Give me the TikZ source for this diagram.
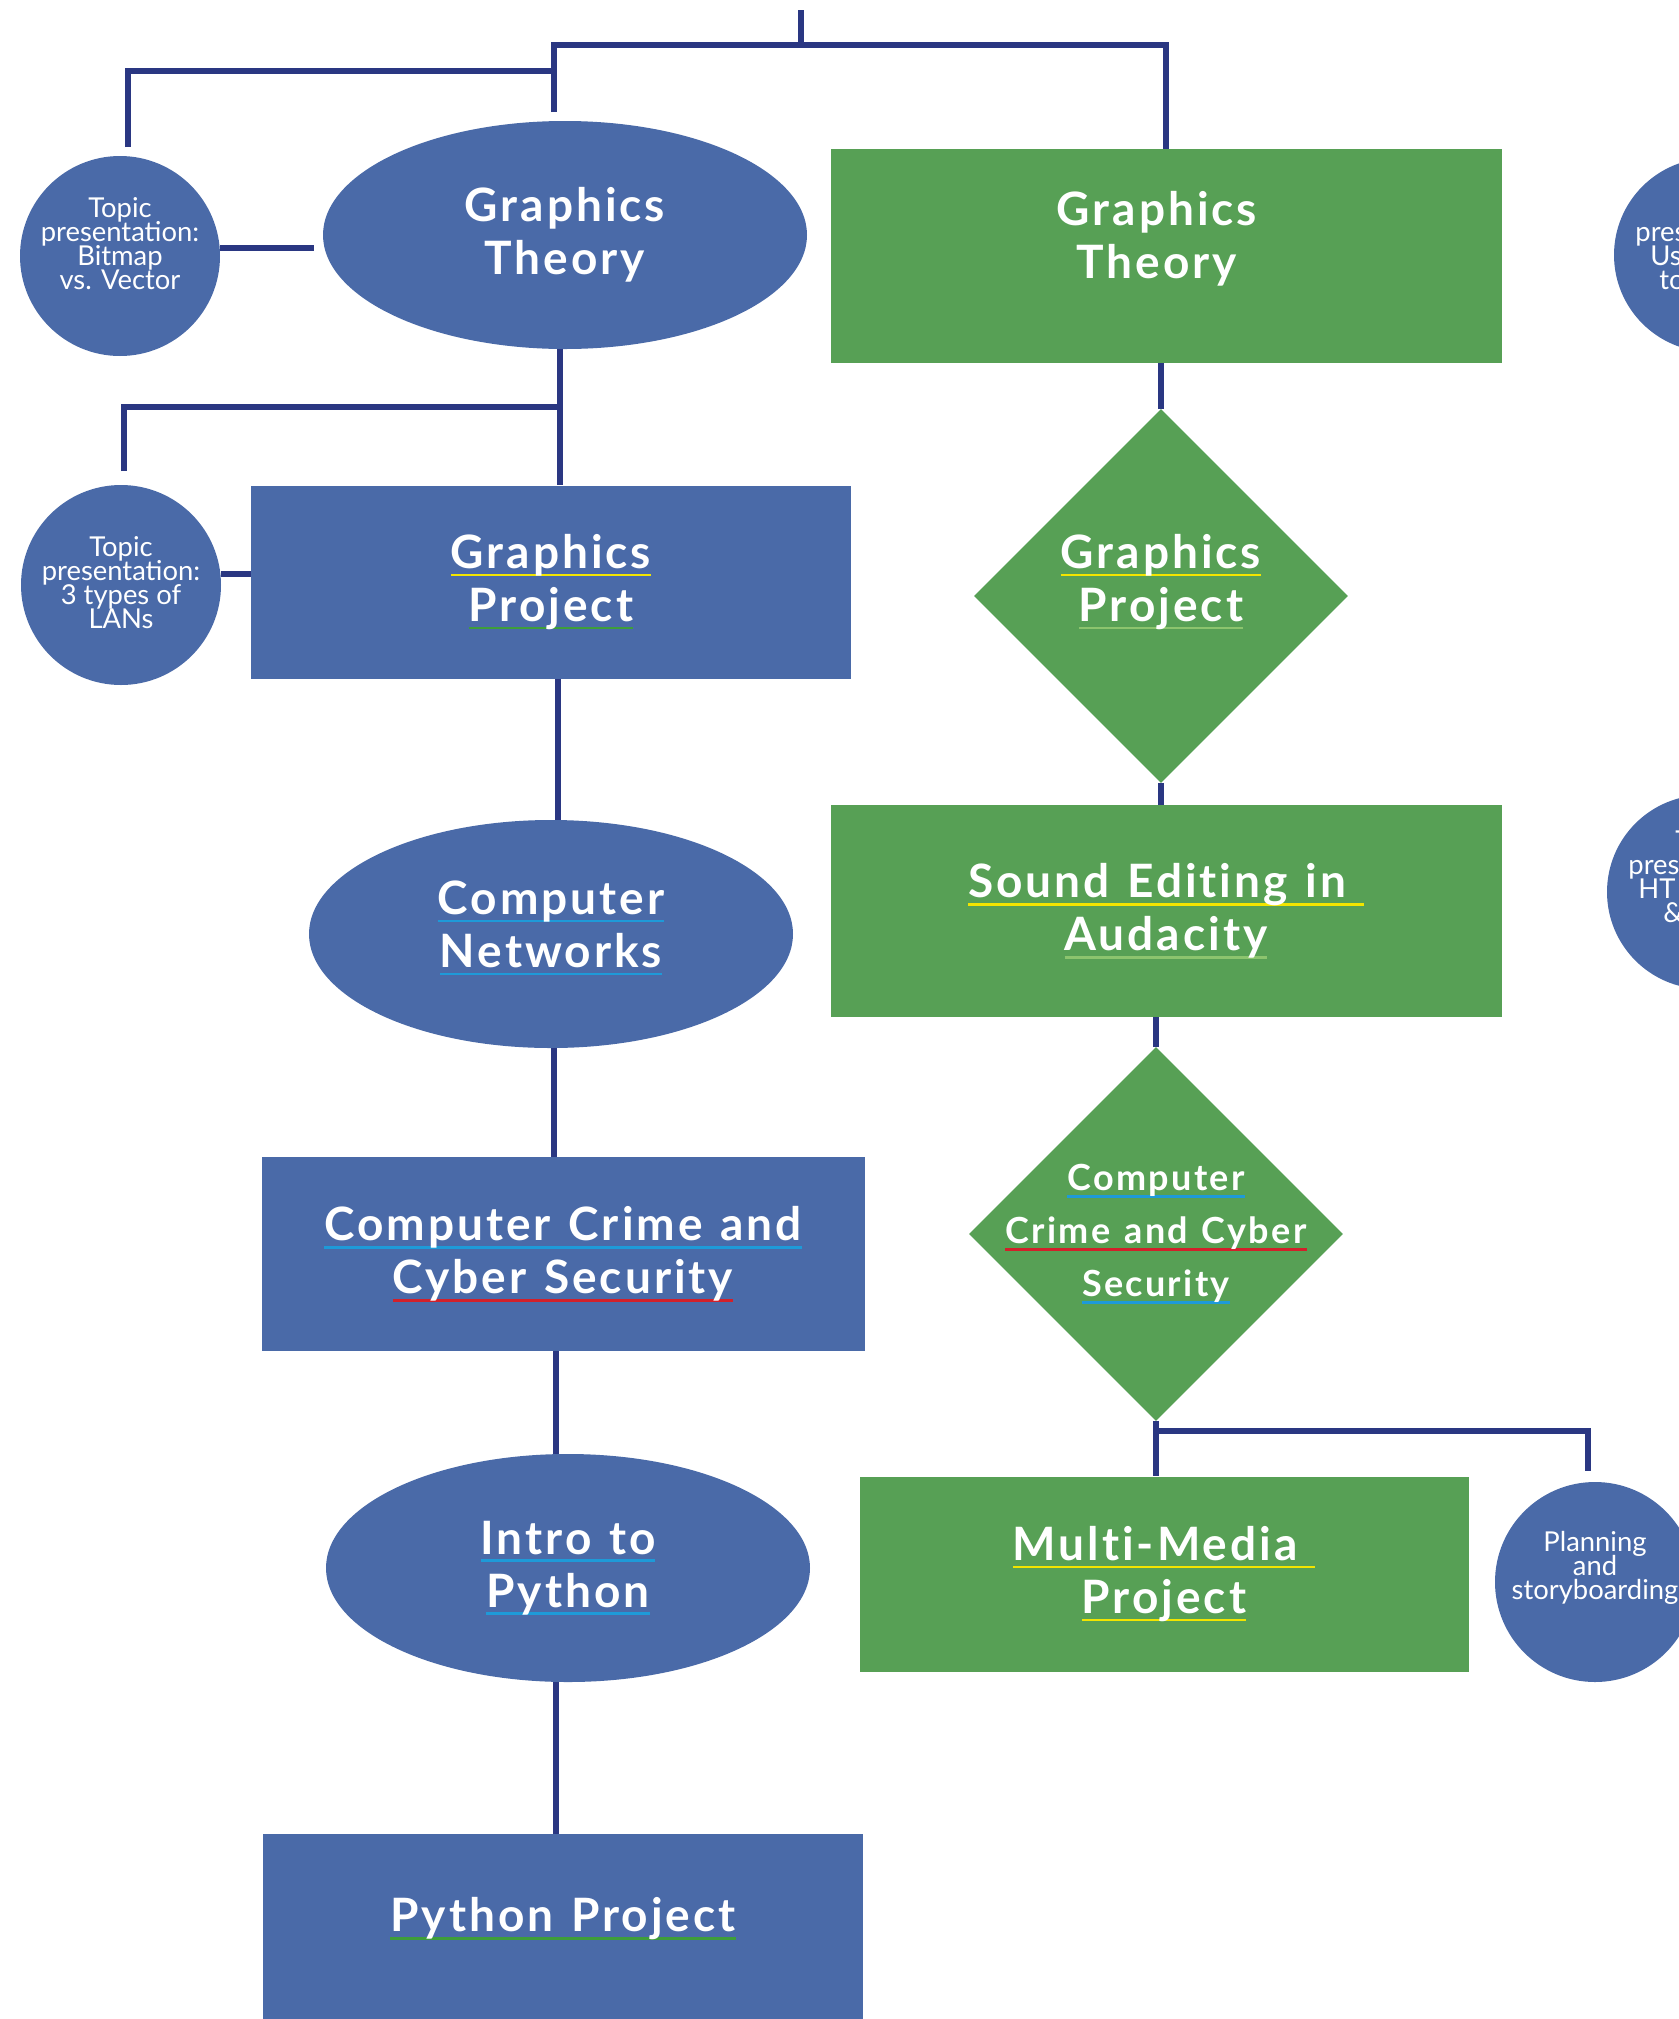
\documentclass[tikz,border=0pt]{standalone}
\usepackage{fontspec}
\setmainfont{Lato}
\newfontfamily\headfont[LetterSpace=6.5,WordSpace=1.25,Ligatures=NoCommon]{Lato}
\usetikzlibrary{shapes.geometric}

\definecolor{blueFill}{HTML}{4A6AA8}
\definecolor{greenFill}{HTML}{57A055}
\definecolor{navy}{HTML}{2A3782}
\definecolor{ulYellow}{HTML}{F2E500}
\definecolor{ulBlue}{HTML}{1E9AD8}
\definecolor{ulRed}{HTML}{D2202A}
\definecolor{ulGreen}{HTML}{3E9E3A}
\definecolor{ulPale}{HTML}{8CC46E}

% coloured line under a word, drawn behind the letters
\newcommand{\uln}[2]{\setbox0=\hbox{#2}\rlap{\color{#1}\rule[-4pt]{\wd0}{1.4pt}}\box0}
% small text in the circles, lines kept close
\newcommand{\topicfont}{\fontsize{13.7}{12}\selectfont\lineskiplimit-20pt\relax\lineskip0pt\relax}

\begin{document}
\begin{tikzpicture}
  [x=0.5pt, y=-0.5pt,
   link/.style = {draw=navy, line width=2.6pt},
   head/.style = {text=white, align=center, inner sep=0pt,
     font=\headfont\bfseries\fontsize{23}{26.5}\selectfont},
   bluebox/.style = {rectangle, fill=blueFill, head},
   greenbox/.style = {rectangle, fill=greenFill, head},
   blueoval/.style = {ellipse, fill=blueFill, head, minimum width=242pt, minimum height=114pt},
   greendia/.style = {diamond, fill=greenFill, inner sep=0pt, minimum width=187pt, minimum height=187pt},
   topic/.style = {circle, fill=blueFill, inner sep=0pt, minimum size=100pt},
   topictext/.style = {text=white, align=center, inner sep=0pt, font=\topicfont},
   cut/.style = {topictext, align=left}]
  \fill[white] (0,0) rectangle (1678,2019);
  \useasboundingbox (0,0) rectangle (1678,2019);

  % left column
  \node[blueoval] (gtEll) at (565,235) {Graphics\\Theory};
  \node[topic, label={[topictext, yshift=6pt]center:{Topic\\presentation:\\Bitmap\\vs. Vector}}]
    (tpBitmap) at (120,256) {};
  \node[bluebox, minimum width=300pt, minimum height=96.5pt] (gpRect) at (551,582)
    {\uln{ulYellow}{Graphics}\\\uln{ulGreen}{Project}};
  \node[topic, label={[topictext, yshift=1pt]center:{Topic\\presentation:\\3 types of\\LANs}}]
    (tpLans) at (121,585) {};
  \node[blueoval, label={[head, yshift=3pt]center:{\uln{ulBlue}{Computer}\\\uln{ulBlue}{Networks}}}]
    (cnEll) at (551,934) {};
  \node[bluebox, minimum width=301.5pt, minimum height=97pt] (ccRect) at (563,1254)
    {\uln{ulBlue}{Computer Crime and}\\\uln{ulRed}{Cyber Security}};
  \node[blueoval] (ipEll) at (568,1568) {\uln{ulBlue}{Intro to}\\\uln{ulBlue}{Python}};
  \node[bluebox, minimum width=300pt, minimum height=97pt,
    label={[head, yshift=6pt]center:{\uln{ulGreen}{Python Project}}}] (ppRect) at (563,1931) {};

  % right column
  \node[greenbox, minimum width=335.5pt, minimum height=107pt,
    label={[head, xshift=-4.5pt, yshift=8.5pt]center:{Graphics\\Theory}}] (gtRect) at (1166,256) {};
  \node[greendia, label={[head, yshift=7pt]center:{\uln{ulYellow}{Graphics}\\\uln{ulPale}{Project}}}]
    (gpDia) at (1161,596) {};
  \node[greenbox, minimum width=335.5pt, minimum height=106pt] (sdRect) at (1166,911)
    {\uln{ulYellow}{Sound Editing in\ }\\\uln{ulPale}{Audacity}};
  \node[greendia, label={[head, font=\headfont\bfseries\fontsize{18}{26.5}\selectfont]center:%
    {\uln{ulBlue}{Computer}\\\uln{ulRed}{Crime and Cyber}\\\uln{ulBlue}{Security}}}] (cyDia) at (1156,1234) {};
  \node[greenbox, minimum width=304.5pt, minimum height=97.5pt] (mmRect) at (1164,1574)
    {\uln{ulYellow}{Multi-Media\ }\\\uln{ulYellow}{Project}};
  \node[topic, label={[topictext, yshift=7pt]center:{Planning\\and\\storyboarding}}]
    (tpPlan) at (1595,1582) {};

  % circles cut by the right edge
  \node[topic, minimum size=97pt] (tpUse) at (1711,255) {};
  \node[cut, anchor=north west] (tpUseTxt) at (1635,227) {pres\\\hspace*{7.5pt}Us\\\hspace*{12pt}to};
  \node[topic, minimum size=97pt] (tpHtml) at (1704,892) {};
  \node[cut, anchor=north west] (tpHtmlTxt) at (1628,830)
    {\hspace*{23.5pt}T\\pres\\\hspace*{5pt}HT\\\hspace*{17.5pt}\&};

  % connectors
  \coordinate (top) at (801,10);
  \coordinate (hub) at (801,45);
  \coordinate (gtIn) at (554,112);
  \coordinate (bmIn) at (128,147);
  \coordinate (lnIn) at (124,471);
  \coordinate (plIn) at (1588,1471);
  \coordinate (bmOut) at ([yshift=4pt]tpBitmap.east);
  \coordinate (lnOut) at ([yshift=5.5pt]tpLans.east);

  \draw[link] (top) -- (hub);
  \draw[link] (gtIn) |- (hub) -| (gtRect.north);
  \draw[link] (bmIn) |- (gtIn |- 0,71);
  \draw[link, shorten >=4.5pt] (bmOut) -- (bmOut -| gtEll.west);
  \draw[link] ([xshift=-2.5pt]gtEll.south) -- ([xshift=-2.5pt]gtEll.south |- gpRect.north);
  \draw[link] (lnIn) |- ([xshift=-2.5pt]gtEll.south |- 0,407);
  \draw[link] (lnOut) -- (lnOut -| gpRect.west);
  \draw[link] ([xshift=3.5pt]gpRect.south) -- ([xshift=3.5pt]cnEll.north);
  \draw[link] ([xshift=1.5pt]cnEll.south) -- ([xshift=1.5pt]cnEll.south |- ccRect.north);
  \draw[link] ([xshift=-3.5pt]ccRect.south) -- ([xshift=-3.5pt]ccRect.south |- ipEll.north);
  \draw[link] ([xshift=-6pt]ipEll.south) -- ([xshift=-6pt]ipEll.south |- ppRect.north);

  \draw[link] (gpDia.north |- gtRect.south) -- (gpDia.north);
  \draw[link] (gpDia.south) -- (gpDia.south |- sdRect.north);
  \draw[link] (cyDia.north |- sdRect.south) -- (cyDia.north);
  \draw[link] (cyDia.south) -- (cyDia.south |- mmRect.north);
  \draw[link] (cyDia.south) |- (plIn |- 0,1431) -- (plIn);
\end{tikzpicture}
\end{document}
